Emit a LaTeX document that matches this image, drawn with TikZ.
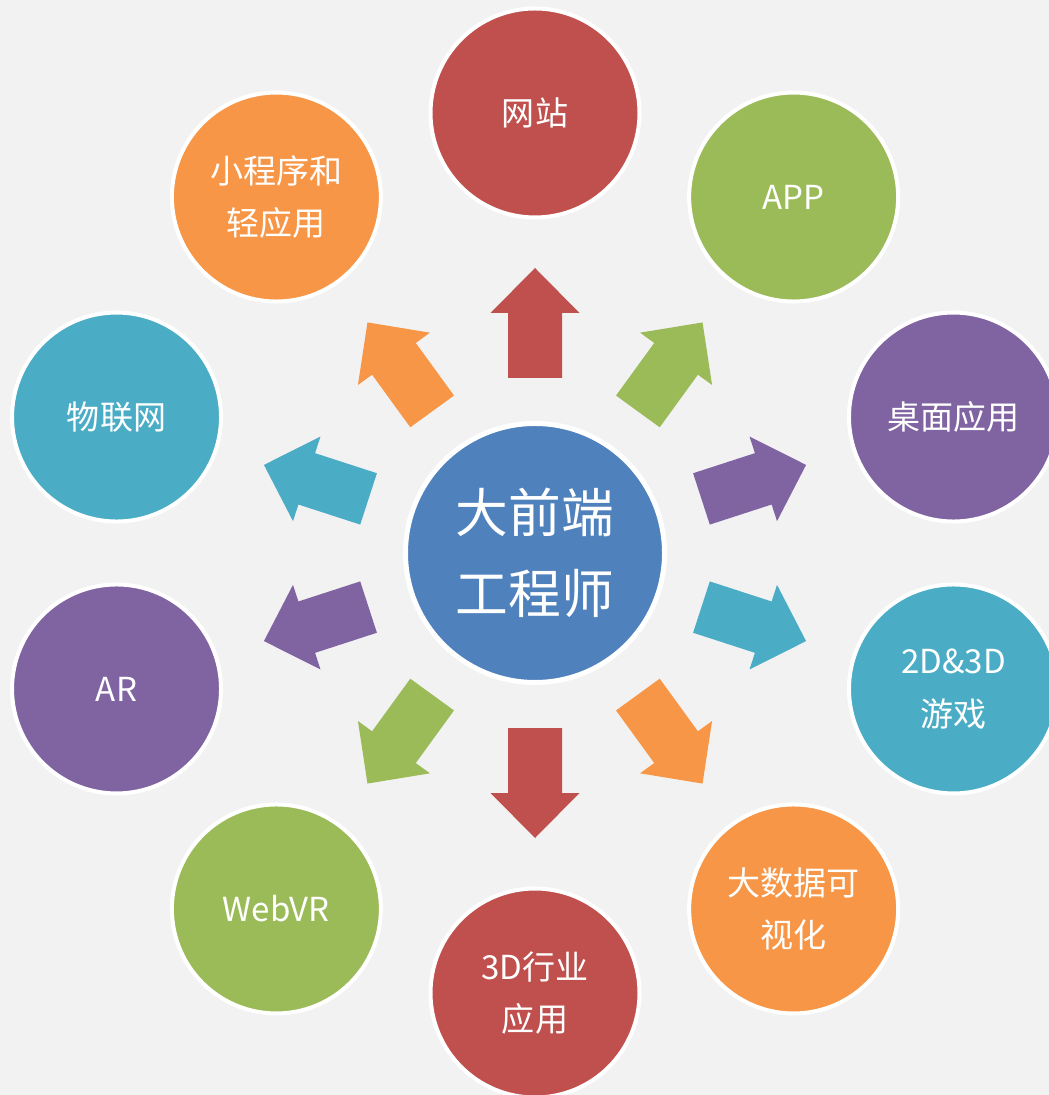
\documentclass[tikz,border=0pt]{standalone}
\usepackage{fontspec}
\newfontfamily\cjk{Noto Sans CJK SC}
\definecolor{bgc}{HTML}{F2F2F2}
\definecolor{redc}{HTML}{C0504D}
\definecolor{greenc}{HTML}{9BBB59}
\definecolor{purplec}{HTML}{8064A2}
\definecolor{tealc}{HTML}{4BACC6}
\definecolor{orangec}{HTML}{F79646}
\definecolor{bluec}{HTML}{4F81BD}
\tikzset{
  hub/.style={circle,draw=white,line width=0.05cm,fill=bluec,minimum size=2.59cm,text=white,align=center,
    font={\cjk\fontsize{15pt}{23pt}\selectfont}},
  leaf/.style={circle,draw=white,line width=0.04cm,minimum size=2.09cm,text=white,align=center,
    font={\cjk\fontsize{9.4pt}{15pt}\selectfont}}
}
\begin{document}
\begin{tikzpicture}
\useasboundingbox[fill=bgc] (-5.35,-5.42) rectangle (5.14,5.53);
\node[hub] (c) at (0,0) {大前端\\工程师};
\foreach \a/\col/\n/\txt in {90/redc/web/网站, 54/greenc/app/APP, 18/purplec/desk/桌面应用,
    -18/tealc/game/2D\&3D\\游戏, -54/orangec/viz/大数据可\\视化, -90/redc/ind/3D行业\\应用,
    -126/greenc/webvr/WebVR, -162/purplec/ar/AR, 162/tealc/iot/物联网, 126/orangec/mini/小程序和\\轻应用}{
  \fill[\col,shift={(c.center)},rotate=\a] (1.75,-0.27) -- (2.4,-0.27) -- (2.4,-0.445) -- (2.85,0)
    -- (2.4,0.445) -- (2.4,0.27) -- (1.75,0.27) -- cycle;
  \node[leaf,fill=\col] (\n) at (\a:4.4) {\txt};
}
\end{tikzpicture}
\end{document}
